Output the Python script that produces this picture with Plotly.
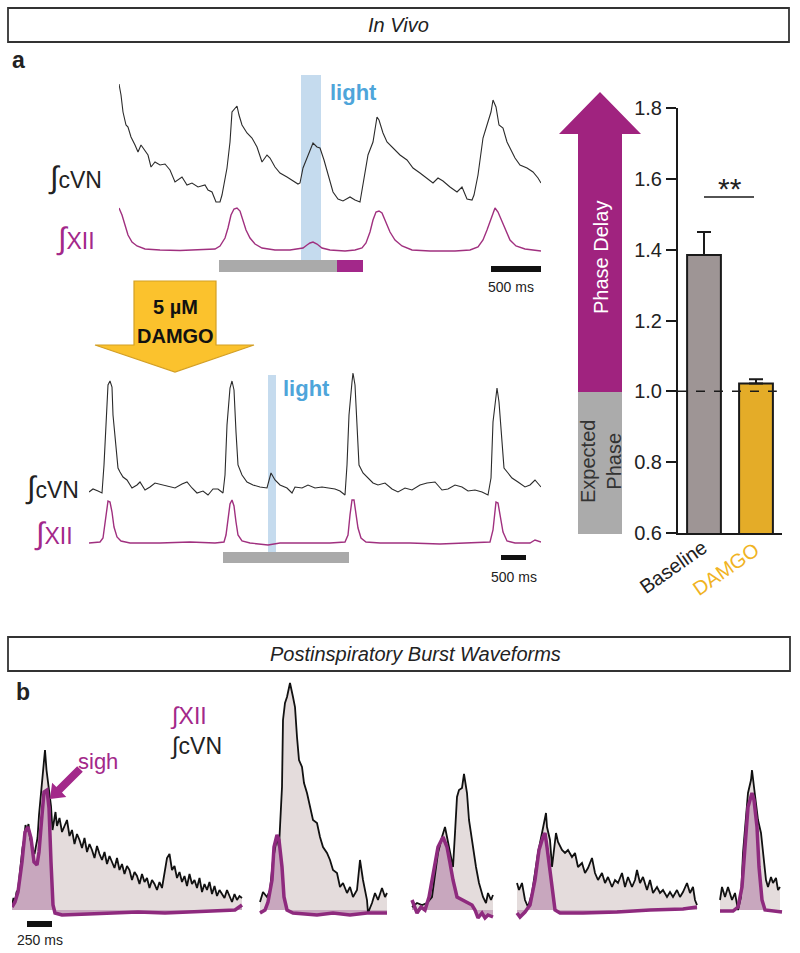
import plotly.graph_objects as go

# ---------------- DATA ----------------
# Panel a, top (baseline): time in ms, integrated activity in a.u.
top_cvn_t = [0, 20, 40, 70, 90, 120, 160, 190, 220, 260, 290, 320, 360, 410, 460, 510, 560, 630, 680, 730,
             790, 860, 890, 930, 970, 1010, 1030, 1080, 1110, 1130, 1160, 1180, 1200, 1230, 1280, 1330, 1380,
             1430, 1480, 1510, 1560, 1610, 1680, 1740, 1790, 1810, 1840, 1880, 1910, 1940, 1980, 2010, 2050,
             2090, 2140, 2190, 2240, 2310, 2360, 2410, 2440, 2490, 2540, 2580, 2600, 2640, 2680, 2740, 2810,
             2880, 2940, 3010, 3080, 3140, 3190, 3240, 3310, 3380, 3430, 3480, 3530, 3550, 3590, 3640, 3680,
             3720, 3740, 3770, 3800, 3840, 3880, 3910, 3960, 4010, 4080, 4140, 4190, 4220]
top_cvn = [131, 120, 103, 90, 88, 78, 70, 63, 70, 64, 60, 48, 53, 50, 51, 45, 33, 38, 30, 32,
           28, 30, 25, 23, 13, 13, 20, 47, 73, 103, 107, 109, 100, 90, 82, 77, 68,
           53, 60, 57, 48, 42, 38, 34, 31, 32, 47, 57, 65, 72, 68, 67, 55,
           40, 23, 16, 14, 18, 15, 13, 30, 60, 73, 98, 95, 82, 73, 67, 60,
           55, 47, 42, 37, 32, 37, 34, 28, 23, 28, 16, 15, 20, 40, 77, 90,
           103, 115, 108, 90, 87, 73, 67, 57, 50, 47, 43, 37, 32]
top_xii_t = [0, 30, 60, 90, 130, 180, 260, 410, 610, 810, 960, 1010, 1060, 1090, 1120, 1150, 1180, 1210, 1240,
             1270, 1310, 1360, 1430, 1560, 1710, 1810, 1840, 1880, 1910, 1940, 1980, 2030, 2110, 2260, 2360,
             2430, 2470, 2510, 2540, 2570, 2600, 2630, 2670, 2710, 2760, 2830, 2930, 3110, 3360, 3510, 3590,
             3640, 3680, 3710, 3740, 3760, 3790, 3830, 3870, 3910, 3970, 4060, 4220]
top_xii = [47, 40, 30, 20, 13, 9, 6, 5, 4.5, 5, 6, 9, 17, 27, 40, 46, 47, 44, 35,
           25, 17, 11, 7, 5, 5, 6, 7, 10, 12, 13, 11, 7, 5, 4, 5,
           7, 12, 23, 35, 43, 44, 42, 33, 23, 15, 9, 5, 4, 4, 5, 8,
           15, 25, 33, 41, 47, 43, 33, 23, 15, 9, 6, 4]
top_light_ms = [1820, 2020]
top_stim_gray_ms = [1000, 2180]
top_stim_mag_ms = [2180, 2440]
top_scale_ms = [3720, 4220]

# Panel a, bottom (DAMGO)
bot_cvn_t = [0, 80, 180, 260, 300, 340, 380, 420, 460, 480, 540, 580, 620, 680, 760, 860, 960, 1020, 1120, 1220,
             1320, 1460, 1580, 1720, 1860, 1960, 2060, 2160, 2280, 2380, 2480, 2580, 2680, 2720, 2760, 2820,
             2860, 2900, 2940, 2980, 3060, 3160, 3280, 3420, 3560, 3640, 3720, 3820, 3960, 4060, 4120, 4260,
             4380, 4520, 4660, 4780, 4920, 5020, 5120, 5160, 5200, 5260, 5280, 5320, 5360, 5400, 5480, 5580,
             5680, 5780, 5920, 6060, 6180, 6320, 6460, 6620, 6760, 6920, 7060, 7180, 7320, 7460, 7580, 7720,
             7860, 7980, 8040, 8080, 8140, 8160, 8200, 8260, 8300, 8380, 8460, 8580, 8720, 8820, 8920, 9040]
bot_cvn = [8, 11, 9, 7, 35, 82, 115, 119, 113, 85, 48, 32, 28, 23, 20, 12, 15, 18, 10, 13,
           17, 15, 14, 12, 16, 18, 12, 7, 9, 5, 11, 11, 7, 25, 75, 112,
           119, 110, 68, 35, 25, 18, 15, 13, 12, 27, 20, 15, 12, 7, 13, 12,
           15, 12, 13, 12, 11, 9, 5, 35, 85, 118, 127, 115, 68, 35, 27, 22,
           17, 15, 17, 11, 8, 12, 10, 15, 17, 18, 10, 11, 15, 13, 9, 10,
           8, 5, 22, 78, 107, 112, 98, 62, 32, 27, 22, 18, 13, 15, 20, 13]
bot_xii_t = [0, 220, 280, 320, 360, 380, 420, 460, 500, 560, 640, 820, 1420, 2020, 2520, 2700, 2740, 2780, 2820,
             2860, 2900, 2940, 2980, 3060, 3220, 3580, 3820, 4220, 4820, 5120, 5180, 5220, 5260, 5300, 5340,
             5380, 5440, 5540, 5820, 6420, 7020, 7620, 8020, 8080, 8120, 8140, 8180, 8220, 8280, 8360, 8520,
             8820, 8920, 9040]
bot_xii = [5, 6, 10, 23, 40, 47, 46, 36, 21, 11, 7, 5, 5, 6, 5, 6, 13, 28, 44,
           48, 42, 26, 13, 7, 5, 3, 5, 5, 5, 6, 13, 33, 48, 48, 36,
           20, 10, 6, 5, 5, 4, 5, 6, 18, 38, 46, 45, 33, 16, 7, 5,
           5, 8, 6]
bot_light_ms = [3580, 3740]
bot_stim_gray_ms = [2680, 5200]
bot_scale_ms = [8240, 8740]

# Bar chart
bar_categories = ["Baseline", "DAMGO"]
bar_means = [1.385, 1.022]
bar_sem = [0.065, 0.012]
bar_yticks = [0.6, 0.8, 1.0, 1.2, 1.4, 1.6, 1.8]
expected_phase = 1.0

# Panel b waveforms (ms, a.u.)
w1_cvn_t = [0, 15, 30, 45, 60, 75, 90, 105, 120, 135, 150, 165, 180, 195, 210, 225, 240, 255, 270, 285, 300,
            315, 330, 345, 360, 375, 390, 405, 420, 435, 450,
            475, 500, 525, 550, 575, 600, 625, 650, 675, 700,
            725, 750, 775, 800, 825, 850, 875, 900, 925, 950,
            975, 1000, 1025, 1050, 1075, 1100, 1125, 1150, 1175, 1200,
            1225, 1250, 1275, 1300, 1325, 1350, 1375, 1400, 1425, 1450,
            1475, 1500, 1525, 1550, 1575, 1600, 1625, 1650, 1675, 1700,
            1725, 1750, 1775, 1800, 1825, 1850, 1875, 1900, 1925, 1950,
            1975, 2000, 2025, 2050, 2075, 2100, 2125, 2150, 2175, 2200,
            2225, 2250, 2275, 2300]
w1_cvn = [5, 12, 8, 18, 20, 35, 48, 62, 70, 85, 80, 86, 72, 64, 60, 56, 66, 72, 95, 112, 128,
          146, 160, 140, 128, 118, 104, 80, 88, 98, 84,
          92, 78, 84, 90, 74, 80, 66, 76, 70, 62,
          72, 58, 66, 60, 52, 64, 56, 50, 58, 46,
          54, 48, 42, 52, 40, 46, 36, 44, 40, 30,
          38, 34, 26, 36, 28, 32, 22, 30, 26, 20,
          28, 22, 36, 52, 56, 40, 44, 32, 38, 28,
          34, 24, 36, 26, 30, 22, 32, 18, 26, 20,
          28, 16, 24, 14, 20, 16, 12, 20, 14, 8,
          16, 10, 14, 12]
w1_xii_t = [0, 30, 60, 100, 130, 160, 190, 220, 250, 270, 300, 320, 350, 370, 390, 410, 430, 500, 760, 1000,
            1260, 1530, 1800, 2060, 2230, 2300]
w1_xii = [3, 8, 18, 48, 78, 83, 72, 48, 45, 58, 95, 118, 120, 102, 48, 5, -3, -5, -4, -3,
          -2, -3, -2, -1, 0, 5]
w2_cvn_t = [2480, 2510, 2550, 2580, 2610, 2650, 2670, 2700, 2710, 2730, 2750, 2780, 2810, 2830, 2850, 2870,
            2900, 2920, 2950, 2980, 3010, 3050, 3080, 3110, 3150, 3180, 3210, 3250, 3280, 3310, 3350, 3380,
            3410, 3450, 3480, 3510, 3550, 3560, 3600, 3630, 3660, 3700, 3730, 3750]
w2_cvn = [8, 18, 13, 20, 50, 73, 63, 123, 190, 207, 213, 227, 213, 203, 173, 150,
          143, 127, 117, 103, 90, 87, 73, 63, 57, 50, 40, 37, 23, 27, 17, 23,
          13, 20, 50, 30, 10, -3, 7, 17, 10, 22, 13, 17]
w2_xii_t = [2480, 2530, 2560, 2600, 2620, 2650, 2670, 2700, 2720, 2750, 2810, 3050, 3210, 3380, 3550, 3750]
w2_xii = [-3, 0, 8, 30, 63, 75, 70, 43, 13, 0, -3, -5, -3, -5, -3, -3]
w3_cvn_t = [4000, 4050, 4100, 4150, 4200, 4230, 4260, 4300, 4330, 4350, 4380, 4410, 4430, 4450, 4470, 4500,
            4520, 4550, 4570, 4610, 4640, 4670, 4710, 4740, 4760, 4790, 4810]
w3_cvn = [3, 7, 5, 7, 13, 37, 57, 73, 83, 73, 57, 43, 77, 113, 120, 122,
          136, 117, 90, 60, 43, 27, 13, 7, 17, 10, 15]
w3_xii_t = [4000, 4050, 4090, 4130, 4170, 4210, 4260, 4310, 4350, 4380, 4410, 4450, 4500, 4550, 4600, 4630,
            4660, 4700, 4730, 4760, 4810]
w3_xii = [10, -3, 3, 0, 13, 37, 63, 73, 63, 47, 30, 13, 10, 7, 5, 0, -8, -3, -8, -5, -7]
w4_cvn_t = [5050, 5070, 5100, 5130, 5160, 5200, 5230, 5260, 5300, 5320, 5340, 5350, 5380, 5400, 5420, 5440,
            5460, 5500, 5530, 5560, 5600, 5630, 5660, 5700, 5730, 5760, 5800, 5830, 5860, 5900, 5930, 5960,
            6000, 6030, 6060, 6100, 6130, 6160, 6200, 6230, 6250, 6280, 6310, 6350, 6380, 6410, 6450, 6480,
            6510, 6550, 6580, 6610, 6650, 6680, 6710, 6750, 6780, 6810, 6830, 6850]
w4_cvn = [27, 20, 27, 10, 3, 17, 37, 57, 77, 87, 97, 83, 70, 43, 60, 77,
          68, 60, 57, 60, 53, 57, 43, 47, 37, 42, 52, 37, 30, 37, 27, 33,
          23, 30, 27, 37, 23, 33, 23, 30, 40, 27, 33, 20, 30, 17, 23, 17,
          20, 13, 18, 13, 20, 13, 18, 27, 17, 23, 10, 5]
w4_xii_t = [5050, 5080, 5130, 5180, 5230, 5270, 5310, 5330, 5350, 5380, 5410, 5430, 5480, 5710, 6050, 6380,
            6710, 6850]
w4_xii = [-3, -7, -2, 5, 30, 60, 73, 77, 63, 37, 10, 0, -3, -3, -2, 0, 1, 3]
w5_cvn_t = [7080, 7100, 7130, 7160, 7200, 7230, 7260, 7290, 7310, 7340, 7360, 7390, 7400, 7420, 7440, 7460,
            7490, 7510, 7540, 7560, 7590, 7610, 7640, 7660, 7680]
w5_cvn = [10, 23, 13, 23, 10, 17, 0, 13, 57, 90, 117, 130, 140, 123, 103, 90,
          77, 57, 30, 23, 33, 27, 32, 20, 23]
w5_xii_t = [7080, 7210, 7260, 7300, 7330, 7360, 7400, 7420, 7450, 7470, 7500, 7530, 7700]
w5_xii = [-1, -1, 3, 23, 63, 103, 117, 110, 83, 43, 10, 0, -2]
b_scale_ms = [150, 400]

# ---------------- STYLE / LAYOUT HELPERS ----------------
W, H = 800, 953
FONT = "Liberation Sans, Arial, sans-serif"
MAG = "#a3288a"
TXT = "#222222"


def px(x):
    return x / W


def py(y):
    return 1 - y / H


def path(pts):
    return "M " + " L ".join(f"{px(x):.5f},{py(y):.5f}" for x, y in pts) + " Z"


annotations = []


def ann(text, x, y, size, color=TXT, angle=0, xanchor="center", align="center"):
    annotations.append(dict(text=text, x=px(x), y=py(y), xref="paper", yref="paper",
                            xanchor=xanchor, yanchor="middle", showarrow=False, align=align,
                            textangle=angle, font=dict(family=FONT, size=size, color=color)))


def integ(name, size):
    return f"<span style='font-size:{size}px'>∫</span>{name}"


fig = go.Figure()

# top traces
fig.add_trace(go.Scatter(x=top_cvn_t, y=top_cvn, mode="lines", line=dict(color="#2b2b2b", width=1.1),
                         xaxis="x", yaxis="y"))
fig.add_trace(go.Scatter(x=top_xii_t, y=top_xii, mode="lines", line=dict(color="#a0307f", width=1.4),
                         xaxis="x", yaxis="y2"))
# bottom traces
fig.add_trace(go.Scatter(x=bot_cvn_t, y=bot_cvn, mode="lines", line=dict(color="#2b2b2b", width=1.1),
                         xaxis="x3", yaxis="y3"))
fig.add_trace(go.Scatter(x=bot_xii_t, y=bot_xii, mode="lines", line=dict(color="#a0307f", width=1.4),
                         xaxis="x3", yaxis="y4"))

# bar chart
fig.add_trace(go.Bar(x=[0, 1], y=bar_means, width=0.65,
                     marker=dict(color=["#9e9595", "#e4ac28"], line=dict(color="#1a1a1a", width=2)),
                     error_y=dict(type="data", symmetric=False, array=bar_sem, arrayminus=[0, 0],
                                  color="#1a1a1a", thickness=2, width=7),
                     xaxis="x6", yaxis="y6"))

# panel b waveforms
waves = [(w1_cvn_t, w1_cvn, w1_xii_t, w1_xii), (w2_cvn_t, w2_cvn, w2_xii_t, w2_xii),
         (w3_cvn_t, w3_cvn, w3_xii_t, w3_xii), (w4_cvn_t, w4_cvn, w4_xii_t, w4_xii),
         (w5_cvn_t, w5_cvn, w5_xii_t, w5_xii)]
for ct, cv, xt, xv in waves:
    fig.add_trace(go.Scatter(x=ct, y=cv, mode="lines", line=dict(width=0), fill="tozeroy",
                             fillcolor="#e4dcdc", xaxis="x5", yaxis="y5"))
for ct, cv, xt, xv in waves:
    fig.add_trace(go.Scatter(x=xt, y=xv, mode="lines", line=dict(width=0), fill="tozeroy",
                             fillcolor="#c8a7be", xaxis="x5", yaxis="y5"))
for ct, cv, xt, xv in waves:
    fig.add_trace(go.Scatter(x=ct, y=cv, mode="lines", line=dict(color="#111111", width=1.8),
                             xaxis="x5", yaxis="y5"))
for ct, cv, xt, xv in waves:
    fig.add_trace(go.Scatter(x=xt, y=xv, mode="lines", line=dict(color="#8e2a7e", width=3.5),
                             xaxis="x5", yaxis="y5"))

shapes = []
# header boxes
shapes.append(dict(type="rect", xref="paper", yref="paper", x0=px(8), x1=px(789), y0=py(42), y1=py(8),
                   line=dict(color="#333", width=1.8)))
shapes.append(dict(type="rect", xref="paper", yref="paper", x0=px(8), x1=px(790), y0=py(671), y1=py(637),
                   line=dict(color="#333", width=1.8)))
# top light band and stimulus bars
shapes.append(dict(type="rect", xref="x", yref="paper", x0=top_light_ms[0], x1=top_light_ms[1],
                   y0=py(260), y1=py(75), fillcolor="#c5dbee", line=dict(width=0), layer="below"))
shapes.append(dict(type="rect", xref="x", yref="paper", x0=top_stim_gray_ms[0], x1=top_stim_gray_ms[1],
                   y0=py(272), y1=py(260), fillcolor="#aaaaaa", line=dict(width=0)))
shapes.append(dict(type="rect", xref="x", yref="paper", x0=top_stim_mag_ms[0], x1=top_stim_mag_ms[1],
                   y0=py(272), y1=py(260), fillcolor=MAG, line=dict(width=0)))
shapes.append(dict(type="rect", xref="x", yref="paper", x0=top_scale_ms[0], x1=top_scale_ms[1],
                   y0=py(272), y1=py(266), fillcolor="#111", line=dict(width=0)))
# bottom light band, stimulus bar, scale bar
shapes.append(dict(type="rect", xref="x3", yref="paper", x0=bot_light_ms[0], x1=bot_light_ms[1],
                   y0=py(552), y1=py(375), fillcolor="#c5dbee", line=dict(width=0), layer="below"))
shapes.append(dict(type="rect", xref="x3", yref="paper", x0=bot_stim_gray_ms[0], x1=bot_stim_gray_ms[1],
                   y0=py(563), y1=py(552), fillcolor="#aaaaaa", line=dict(width=0)))
shapes.append(dict(type="rect", xref="x3", yref="paper", x0=bot_scale_ms[0], x1=bot_scale_ms[1],
                   y0=py(560), y1=py(555), fillcolor="#111", line=dict(width=0)))
# yellow DAMGO arrow
shapes.append(dict(type="path", xref="paper", yref="paper",
                   path=path([(134, 281), (216, 281), (216, 345), (254, 345), (175, 372), (95, 345), (134, 345)]),
                   fillcolor="#fbc22d", line=dict(color="#d39f25", width=1.2)))
# purple phase-delay arrow & gray expected phase box
shapes.append(dict(type="path", xref="paper", yref="paper",
                   path=path([(578, 392), (578, 134), (559, 134), (600, 92), (641, 134), (622, 134), (622, 392)]),
                   fillcolor="#a0237f", line=dict(width=0)))
shapes.append(dict(type="rect", xref="paper", yref="paper", x0=px(578), x1=px(622), y0=py(534), y1=py(392),
                   fillcolor="#ababab", line=dict(width=0)))
# expected-phase dashed line
shapes.append(dict(type="line", xref="x6", yref="y6", x0=-0.5, x1=1.4, y0=expected_phase, y1=expected_phase,
                   line=dict(color="#1a1a1a", width=1.5, dash="dash")))
# significance line
shapes.append(dict(type="line", xref="paper", yref="paper", x0=px(704), x1=px(754), y0=py(197), y1=py(197),
                   line=dict(color="#1a1a1a", width=1.5)))
# panel b scale bar
shapes.append(dict(type="rect", xref="x5", yref="paper", x0=b_scale_ms[0], x1=b_scale_ms[1],
                   y0=py(927), y1=py(921), fillcolor="#111", line=dict(width=0)))
# sigh arrow
shapes.append(dict(type="path", xref="paper", yref="paper",
                   path=path([(82.8, 771.8), (62.0, 792.6), (66.3, 796.9), (50, 799), (52.1, 782.7),
                              (56.4, 787.0), (77.2, 766.2)]),
                   fillcolor=MAG, line=dict(width=0)))

# text
ann("<i>In Vivo</i>", 398, 25, 20)
ann("<b>a</b>", 18, 60, 23)
ann(integ("cVN", 31), 75, 178, 23)
ann(integ("XII", 31), 75, 238, 23, MAG)
ann("<b>light</b>", 353, 93, 22, "#4ea5da")
ann("500 ms", 511, 287, 14)
ann("<b>5 µM</b>", 175, 307, 20, "#111")
ann("<b>DAMGO</b>", 175, 336, 20, "#111")
ann(integ("cVN", 31), 52, 488, 23)
ann(integ("XII", 31), 53, 533, 23, MAG)
ann("<b>light</b>", 306, 388, 22, "#4ea5da")
ann("500 ms", 514, 577, 14)
ann("**", 730, 188, 30)
ann("Phase Delay", 601, 258, 20, "white", angle=-90)
ann("Expected<br>Phase", 601, 462, 20, "#333", angle=-90)
ann(bar_categories[0], 673, 567, 20, TXT, angle=-35)
ann(bar_categories[1], 726, 569, 20, "#f0b323", angle=-35)
ann("<i>Postinspiratory Burst Waveforms</i>", 415, 654, 20)
ann("<b>b</b>", 23, 692, 23)
ann(integ("XII", 24), 168, 716, 23, MAG, xanchor="left")
ann(integ("cVN", 24), 168, 746, 23, TXT, xanchor="left")
ann("sigh", 98, 761, 22, MAG)
ann("250 ms", 40, 940, 14)

hidden = dict(visible=False, showgrid=False, zeroline=False, fixedrange=True, automargin=False)
layout = dict(
    width=W, height=H, margin=dict(l=0, r=0, t=0, b=0, pad=0, autoexpand=False),
    paper_bgcolor="white", plot_bgcolor="rgba(0,0,0,0)", showlegend=False,
    font=dict(family=FONT, color=TXT),
    xaxis=dict(hidden, domain=[px(119), px(541)], range=[0, 4220], anchor="y"),
    yaxis=dict(hidden, domain=[py(215), py(75)], range=[0, 140], anchor="x"),
    yaxis2=dict(hidden, domain=[py(255), py(200)], range=[0, 55], anchor="x"),
    xaxis3=dict(hidden, domain=[px(89), px(541)], range=[0, 9040], anchor="y3"),
    yaxis3=dict(hidden, domain=[py(500), py(365)], range=[0, 135], anchor="x3"),
    yaxis4=dict(hidden, domain=[py(548), py(495)], range=[0, 53], anchor="x3"),
    xaxis5=dict(hidden, domain=[px(12), px(785)], range=[0, 7730], anchor="y5"),
    yaxis5=dict(hidden, domain=[py(925), py(670)], range=[-15, 240], anchor="x5"),
    xaxis6=dict(domain=[px(678), px(782)], range=[-0.5, 1.5], anchor="y6", showline=True, linewidth=2,
                linecolor="#1a1a1a", showticklabels=False, ticks="", showgrid=False, zeroline=False,
                fixedrange=True, automargin=False),
    yaxis6=dict(domain=[py(533), py(108)], range=[0.6, 1.8], anchor="x6", showline=True, linewidth=2,
                linecolor="#1a1a1a", tickvals=bar_yticks, tickformat=".1f", ticks="outside", ticklen=10,
                tickwidth=2, tickcolor="#1a1a1a", tickfont=dict(family=FONT, size=20, color=TXT),
                showgrid=False, zeroline=False, fixedrange=True, automargin=False),
    shapes=shapes, annotations=annotations,
)
fig.update_layout(layout)
page_css = ("var s=document.documentElement.style; s.margin='0'; s.padding='0'; s.overflow='hidden';"
            "var b=document.body.style; b.margin='0'; b.padding='0'; b.overflow='hidden';")
fig.write_html("out.html", config={"displayModeBar": False}, post_script=page_css)
